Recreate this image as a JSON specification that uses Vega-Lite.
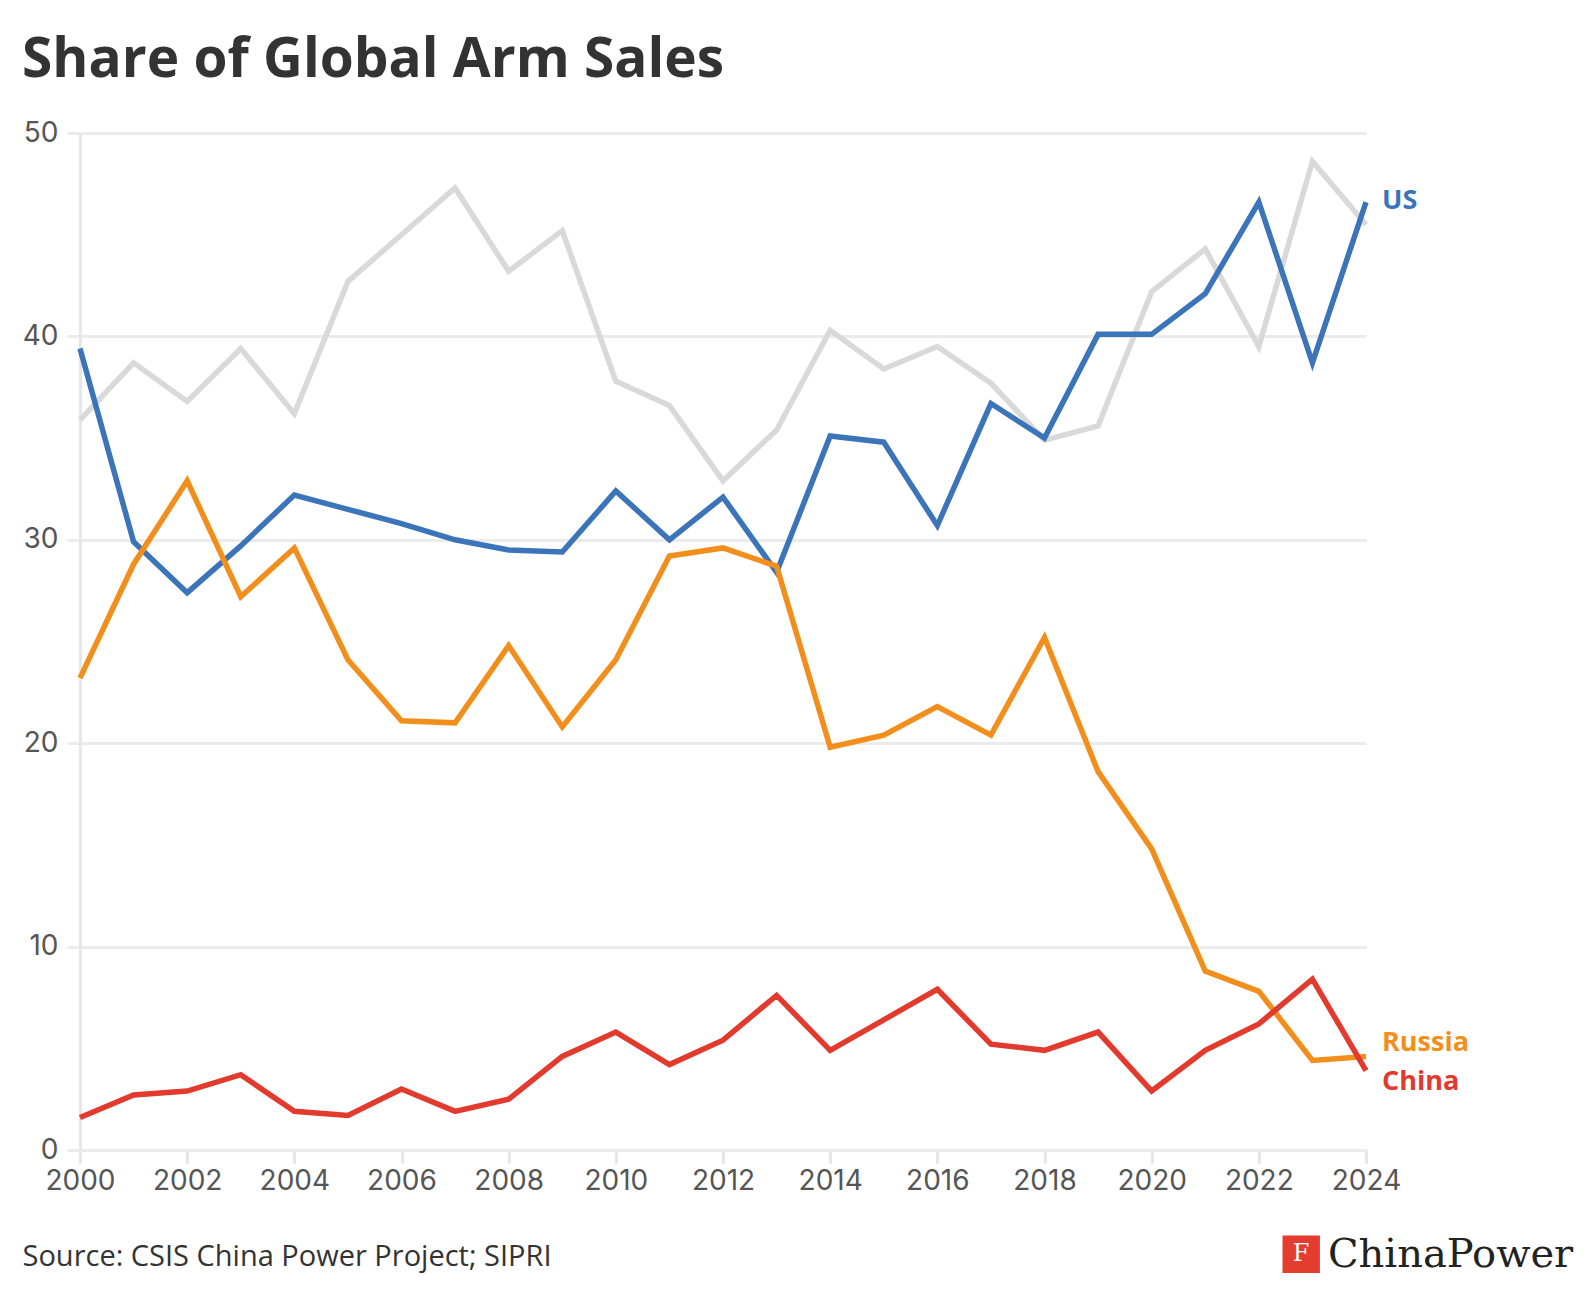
{
  "$schema": "https://vega.github.io/schema/vega-lite/v6.json",
  "width": 1286,
  "height": 1017,
  "autosize": {"type": "none"},
  "padding": {"left": 80, "top": 133, "right": 222, "bottom": 150},
  "background": "white",
  "config": {
    "view": {"stroke": null},
    "font": "Open Sans"
  },
  "title": {
    "text": "Share of Global Arm Sales",
    "anchor": "start",
    "frame": "group",
    "dx": -58,
    "dy": 57,
    "offset": 44,
    "baseline": "alphabetic",
    "font": "Open Sans",
    "fontSize": 55,
    "fontWeight": "bold",
    "color": "#333333"
  },
  "data": {
    "values": [
      {"year": 2000, "series": "Others", "value": 35.9},
      {"year": 2001, "series": "Others", "value": 38.7},
      {"year": 2002, "series": "Others", "value": 36.8},
      {"year": 2003, "series": "Others", "value": 39.4},
      {"year": 2004, "series": "Others", "value": 36.2},
      {"year": 2005, "series": "Others", "value": 42.7},
      {"year": 2006, "series": "Others", "value": 45.0},
      {"year": 2007, "series": "Others", "value": 47.3},
      {"year": 2008, "series": "Others", "value": 43.2},
      {"year": 2009, "series": "Others", "value": 45.2},
      {"year": 2010, "series": "Others", "value": 37.8},
      {"year": 2011, "series": "Others", "value": 36.6},
      {"year": 2012, "series": "Others", "value": 32.9},
      {"year": 2013, "series": "Others", "value": 35.4},
      {"year": 2014, "series": "Others", "value": 40.3},
      {"year": 2015, "series": "Others", "value": 38.4},
      {"year": 2016, "series": "Others", "value": 39.5},
      {"year": 2017, "series": "Others", "value": 37.7},
      {"year": 2018, "series": "Others", "value": 34.9},
      {"year": 2019, "series": "Others", "value": 35.6},
      {"year": 2020, "series": "Others", "value": 42.2},
      {"year": 2021, "series": "Others", "value": 44.3},
      {"year": 2022, "series": "Others", "value": 39.5},
      {"year": 2023, "series": "Others", "value": 48.6},
      {"year": 2024, "series": "Others", "value": 45.5},
      {"year": 2000, "series": "US", "value": 39.4},
      {"year": 2001, "series": "US", "value": 29.9},
      {"year": 2002, "series": "US", "value": 27.4},
      {"year": 2003, "series": "US", "value": 29.7},
      {"year": 2004, "series": "US", "value": 32.2},
      {"year": 2005, "series": "US", "value": 31.5},
      {"year": 2006, "series": "US", "value": 30.8},
      {"year": 2007, "series": "US", "value": 30.0},
      {"year": 2008, "series": "US", "value": 29.5},
      {"year": 2009, "series": "US", "value": 29.4},
      {"year": 2010, "series": "US", "value": 32.4},
      {"year": 2011, "series": "US", "value": 30.0},
      {"year": 2012, "series": "US", "value": 32.1},
      {"year": 2013, "series": "US", "value": 28.4},
      {"year": 2014, "series": "US", "value": 35.1},
      {"year": 2015, "series": "US", "value": 34.8},
      {"year": 2016, "series": "US", "value": 30.7},
      {"year": 2017, "series": "US", "value": 36.7},
      {"year": 2018, "series": "US", "value": 35.0},
      {"year": 2019, "series": "US", "value": 40.1},
      {"year": 2020, "series": "US", "value": 40.1},
      {"year": 2021, "series": "US", "value": 42.1},
      {"year": 2022, "series": "US", "value": 46.6},
      {"year": 2023, "series": "US", "value": 38.7},
      {"year": 2024, "series": "US", "value": 46.6},
      {"year": 2000, "series": "Russia", "value": 23.2},
      {"year": 2001, "series": "Russia", "value": 28.8},
      {"year": 2002, "series": "Russia", "value": 32.9},
      {"year": 2003, "series": "Russia", "value": 27.2},
      {"year": 2004, "series": "Russia", "value": 29.6},
      {"year": 2005, "series": "Russia", "value": 24.1},
      {"year": 2006, "series": "Russia", "value": 21.1},
      {"year": 2007, "series": "Russia", "value": 21.0},
      {"year": 2008, "series": "Russia", "value": 24.8},
      {"year": 2009, "series": "Russia", "value": 20.8},
      {"year": 2010, "series": "Russia", "value": 24.1},
      {"year": 2011, "series": "Russia", "value": 29.2},
      {"year": 2012, "series": "Russia", "value": 29.6},
      {"year": 2013, "series": "Russia", "value": 28.7},
      {"year": 2014, "series": "Russia", "value": 19.8},
      {"year": 2015, "series": "Russia", "value": 20.4},
      {"year": 2016, "series": "Russia", "value": 21.8},
      {"year": 2017, "series": "Russia", "value": 20.4},
      {"year": 2018, "series": "Russia", "value": 25.2},
      {"year": 2019, "series": "Russia", "value": 18.6},
      {"year": 2020, "series": "Russia", "value": 14.8},
      {"year": 2021, "series": "Russia", "value": 8.8},
      {"year": 2022, "series": "Russia", "value": 7.8},
      {"year": 2023, "series": "Russia", "value": 4.4},
      {"year": 2024, "series": "Russia", "value": 4.6},
      {"year": 2000, "series": "China", "value": 1.6},
      {"year": 2001, "series": "China", "value": 2.7},
      {"year": 2002, "series": "China", "value": 2.9},
      {"year": 2003, "series": "China", "value": 3.7},
      {"year": 2004, "series": "China", "value": 1.9},
      {"year": 2005, "series": "China", "value": 1.7},
      {"year": 2006, "series": "China", "value": 3.0},
      {"year": 2007, "series": "China", "value": 1.9},
      {"year": 2008, "series": "China", "value": 2.5},
      {"year": 2009, "series": "China", "value": 4.6},
      {"year": 2010, "series": "China", "value": 5.8},
      {"year": 2011, "series": "China", "value": 4.2},
      {"year": 2012, "series": "China", "value": 5.4},
      {"year": 2013, "series": "China", "value": 7.6},
      {"year": 2014, "series": "China", "value": 4.9},
      {"year": 2015, "series": "China", "value": 6.4},
      {"year": 2016, "series": "China", "value": 7.9},
      {"year": 2017, "series": "China", "value": 5.2},
      {"year": 2018, "series": "China", "value": 4.9},
      {"year": 2019, "series": "China", "value": 5.8},
      {"year": 2020, "series": "China", "value": 2.9},
      {"year": 2021, "series": "China", "value": 4.9},
      {"year": 2022, "series": "China", "value": 6.2},
      {"year": 2023, "series": "China", "value": 8.4},
      {"year": 2024, "series": "China", "value": 3.9}
    ]
  },
  "encoding": {
    "x": {
      "field": "year",
      "type": "quantitative",
      "scale": {"domain": [2000, 2024], "nice": false, "zero": false},
      "axis": {
        "values": [2000, 2002, 2004, 2006, 2008, 2010, 2012, 2014, 2016, 2018, 2020, 2022, 2024],
        "format": "d",
        "grid": false,
        "domainColor": "#ebebeb",
        "domainWidth": 3,
        "tickColor": "#e6e6e6",
        "tickWidth": 3,
        "tickSize": 13,
        "labelFont": "Inter",
        "labelFontSize": 28,
        "labelColor": "#555555",
        "labelPadding": 4,
        "labelFlush": false,
        "labelOverlap": false,
        "title": "Source: CSIS China Power Project; SIPRI",
        "titleFont": "Open Sans",
        "titleFontSize": 29,
        "titleFontWeight": "normal",
        "titleColor": "#333333",
        "titleAnchor": "start",
        "titleAlign": "left",
        "titleBaseline": "middle",
        "titleX": -58,
        "titleY": 106
      }
    },
    "y": {
      "field": "value",
      "type": "quantitative",
      "scale": {"domain": [0, 50], "nice": false},
      "axis": {
        "values": [0, 10, 20, 30, 40, 50],
        "title": null,
        "grid": true,
        "gridColor": "#ebebeb",
        "gridWidth": 3,
        "domain": true,
        "domainColor": "#e6e6e6",
        "domainWidth": 3,
        "tickColor": "#ebebeb",
        "tickWidth": 3,
        "tickSize": 13,
        "labelFont": "Inter",
        "labelFontSize": 28,
        "labelColor": "#555555",
        "labelPadding": 9
      }
    }
  },
  "layer": [
    {
      "mark": {"type": "line", "strokeWidth": 5.5, "strokeJoin": "miter", "clip": false},
      "encoding": {
        "color": {
          "field": "series",
          "type": "nominal",
          "scale": {
            "domain": ["Others", "US", "Russia", "China"],
            "range": ["#d9d9d9", "#3b74b9", "#f28f1c", "#e23b2e"]
          },
          "legend": null
        }
      }
    },
    {
      "transform": [{"filter": "datum.year == 2024 && datum.series == 'US'"}],
      "mark": {"type": "text", "align": "left", "baseline": "middle", "dx": 16, "dy": -1, "font": "Open Sans", "fontSize": 27, "fontWeight": "bold", "color": "#3b74b9"},
      "encoding": {"text": {"field": "series"}}
    },
    {
      "transform": [{"filter": "datum.year == 2024 && datum.series == 'Russia'"}],
      "mark": {"type": "text", "align": "left", "baseline": "middle", "dx": 16, "dy": -13, "font": "Open Sans", "fontSize": 27, "fontWeight": "bold", "color": "#f28f1c"},
      "encoding": {"text": {"field": "series"}}
    },
    {
      "transform": [{"filter": "datum.year == 2024 && datum.series == 'China'"}],
      "mark": {"type": "text", "align": "left", "baseline": "middle", "dx": 16, "dy": 11, "font": "Open Sans", "fontSize": 27, "fontWeight": "bold", "color": "#e23b2e"},
      "encoding": {"text": {"field": "series"}}
    },
    {
      "transform": [{"filter": "datum.year == 2024 && datum.series == 'US'"}],
      "mark": {"type": "text", "text": "■", "align": "left", "baseline": "alphabetic", "dx": -88, "dy": 117, "font": "DejaVu Sans", "fontSize": 49, "color": "#e43d2f"},
      "encoding": {
        "x": {"datum": 2024, "type": "quantitative"},
        "y": {"datum": 0, "type": "quantitative"}
      }
    },
    {
      "transform": [{"filter": "datum.year == 2024 && datum.series == 'US'"}],
      "mark": {"type": "text", "text": "F", "align": "center", "baseline": "alphabetic", "dx": -65, "dy": 111, "font": "DejaVu Serif", "fontSize": 24, "color": "#ffffff"},
      "encoding": {
        "x": {"datum": 2024, "type": "quantitative"},
        "y": {"datum": 0, "type": "quantitative"}
      }
    },
    {
      "transform": [{"filter": "datum.year == 2024 && datum.series == 'US'"}],
      "mark": {"type": "text", "text": "ChinaPower", "align": "left", "baseline": "alphabetic", "dx": -38, "dy": 117, "font": "DejaVu Serif", "fontSize": 40, "color": "#222222"},
      "encoding": {
        "x": {"datum": 2024, "type": "quantitative"},
        "y": {"datum": 0, "type": "quantitative"}
      }
    }
  ]
}
